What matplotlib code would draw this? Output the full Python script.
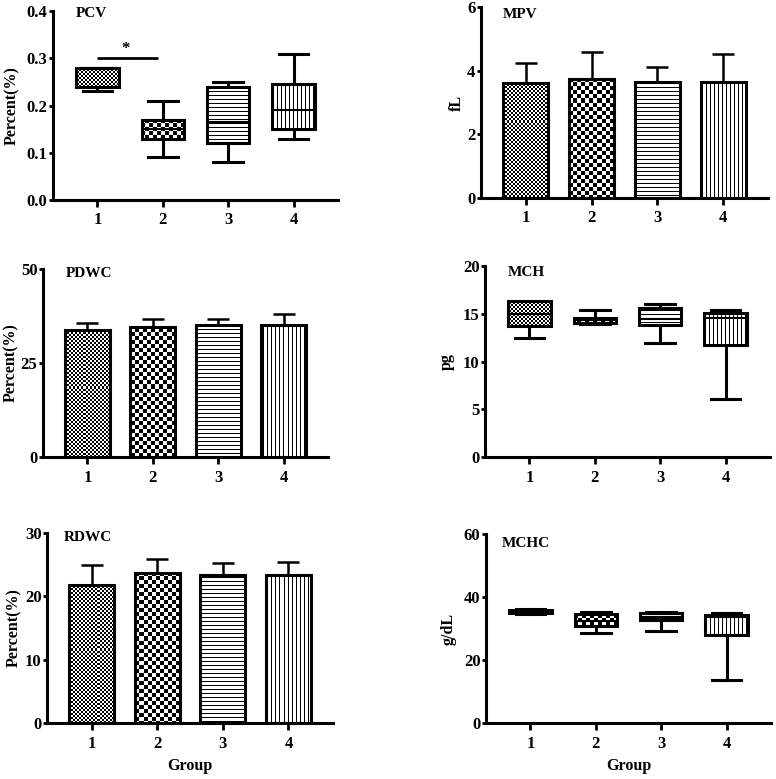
import numpy as np
import matplotlib
matplotlib.use("Agg")
import matplotlib.pyplot as plt

plt.rcParams["font.family"] = ["Liberation Serif", "DejaVu Serif"]
plt.rcParams["font.weight"] = "bold"

FIG_W, FIG_H = 776, 779
DPI = 100

GROUPS = [1, 2, 3, 4]
PATTERNS = ["fine", "checker", "hline", "vline"]

# ---- bar panels (mean, upper error end) ----
MPV_MEAN = [3.62, 3.75, 3.63, 3.63]
MPV_TOP = [4.25, 4.60, 4.12, 4.53]
PDWC_MEAN = [33.8, 34.6, 35.0, 35.2]
PDWC_TOP = [35.6, 36.6, 36.8, 37.9]
RDWC_MEAN = [21.8, 23.7, 23.3, 23.3]
RDWC_TOP = [25.0, 25.9, 25.3, 25.4]

# ---- box panels: whislo, q1, med, q3, whishi ----
PCV_LO = [0.23, 0.09, 0.08, 0.13]
PCV_Q1 = [0.24, 0.13, 0.12, 0.15]
PCV_MED = [0.28, 0.15, 0.165, 0.19]
PCV_Q3 = [0.28, 0.17, 0.24, 0.245]
PCV_HI = [0.28, 0.21, 0.25, 0.31]

MCH_LO = [12.5, 13.9, 11.9, 6.1]
MCH_Q1 = [13.7, 14.0, 13.8, 11.7]
MCH_MED = [15.0, 14.3, 14.5, 14.6]
MCH_Q3 = [16.3, 14.6, 15.6, 15.1]
MCH_HI = [16.3, 15.4, 16.0, 15.4]

MCHC_LO = [34.5, 28.5, 29.2, 13.5]
MCHC_Q1 = [34.8, 30.7, 32.8, 28.0]
MCHC_MED = [35.3, 32.5, 33.8, 33.5]
MCHC_Q3 = [36.0, 34.6, 35.0, 34.2]
MCHC_HI = [36.3, 35.3, 35.3, 34.8]

# axes boxes in pixels: left, bottom(from top), right, top(from top)
BOXES = {
    "PCV": (53, 200, 338, 11),
    "MPV": (481, 198, 768, 7),
    "PDWC": (43, 457, 328, 269),
    "MCH": (485, 457, 770, 266),
    "RDWC": (47, 723, 333, 533),
    "MCHC": (486, 723, 771, 534),
}
# distance (px) from the y axis to the centre of the y label
YLABEL_GAP = {"PCV": 41, "MPV": 24, "PDWC": 32, "MCH": 38, "RDWC": 33, "MCHC": 37}

fig = plt.figure(figsize=(FIG_W / DPI, FIG_H / DPI), dpi=DPI)


def make_axes(name):
    l, b, r, t = BOXES[name]
    ax = fig.add_axes([l / FIG_W, 1 - b / FIG_H, (r - l) / FIG_W, (b - t) / FIG_H])
    ax._px = (r - l, b - t)
    return ax


def pattern_array(kind, h, w):
    yy, xx = np.mgrid[0:h, 0:w]
    if kind == "fine":
        return ((xx // 2 + yy // 2) % 2).astype(float)
    if kind == "checker":
        return ((xx // 4 + yy // 4) % 2).astype(float)
    if kind == "hline":
        return (yy % 4 != 0).astype(float)
    return (xx % 4 != 0).astype(float)


def fill_with(ax, patch, kind):
    # pixel pattern covering the whole axes, clipped to the bar / box
    w, h = ax._px
    arr = pattern_array(kind, h, w)
    im = ax.imshow(arr, cmap="gray", vmin=0, vmax=1, extent=(0, 1, 0, 1),
                   transform=ax.transAxes, aspect="auto",
                   interpolation="nearest", zorder=2)
    im.set_clip_path(patch)


def style(ax, title, ylim, yticks, ylabel, tx, ty):
    for s in ["top", "right"]:
        ax.spines[s].set_visible(False)
    for s in ["left", "bottom"]:
        ax.spines[s].set_linewidth(2.2)
    ax.set_xlim(0.32, 4.68)
    ax.set_ylim(*ylim)
    ax.set_yticks(yticks)
    ax.set_xticks(GROUPS)
    ax.tick_params(axis="x", length=5, width=2.0, pad=4, labelsize=12)
    ax.tick_params(axis="y", length=3, width=2.0, pad=1, labelsize=12)
    ax.set_ylabel(ylabel, fontsize=11.5, fontweight="bold")
    ax.yaxis.set_label_coords(-YLABEL_GAP[title] / ax._px[0], 0.5)
    ax.yaxis.label.set_verticalalignment("center")
    ax.text(tx, ty, title, transform=ax.transAxes, fontsize=11,
            fontweight="bold", va="center", ha="left")
    ax.set_facecolor("none")


def bar_panel(name, means, tops, ylim, yticks, ylabel, tx, ty, fmt="{:g}"):
    ax = make_axes(name)
    bars = ax.bar(GROUPS, means, width=0.69, facecolor="none",
                  edgecolor="black", linewidth=2.2, zorder=3)
    for b, kind in zip(bars, PATTERNS):
        fill_with(ax, b, kind)
    err = np.array(tops) - np.array(means)
    ax.errorbar(GROUPS, means, yerr=[np.zeros(4), err], fmt="none",
                ecolor="black", elinewidth=1.8, capsize=8, capthick=1.8,
                zorder=1)
    style(ax, name, ylim, yticks, ylabel, tx, ty)
    ax.set_yticklabels([fmt.format(v) for v in yticks])
    return ax


def box_panel(name, lo, q1, med, q3, hi, ylim, yticks, ylabel, tx, ty, fmt="{:g}"):
    ax = make_axes(name)
    stats = [dict(whislo=a, q1=b, med=c, q3=d, whishi=e)
             for a, b, c, d, e in zip(lo, q1, med, q3, hi)]
    lw = 2.2
    res = ax.bxp(stats, positions=GROUPS, widths=0.65, patch_artist=True,
                 showfliers=False, capwidths=0.45,
                 boxprops=dict(facecolor="none", edgecolor="black", linewidth=lw),
                 whiskerprops=dict(color="black", linewidth=lw),
                 capprops=dict(color="black", linewidth=lw),
                 medianprops=dict(color="black", linewidth=1.5))
    for p in res["boxes"]:
        p.set_zorder(3)
    for art in res["medians"]:
        art.set_zorder(3)
    for p, kind in zip(res["boxes"], PATTERNS):
        fill_with(ax, p, kind)
    style(ax, name, ylim, yticks, ylabel, tx, ty)
    ax.set_yticklabels([fmt.format(v) for v in yticks])
    return ax


ax1 = box_panel("PCV", PCV_LO, PCV_Q1, PCV_MED, PCV_Q3, PCV_HI,
                (0, 0.4), [0, 0.1, 0.2, 0.3, 0.4], "Percent(%)", 0.08, 0.985,
                fmt="{:.1f}")
ax1.plot([1, 1.93], [0.30, 0.30], color="black", linewidth=2.0,
         solid_capstyle="butt")
ax1.text(1.43, 0.303, "*", ha="center", va="bottom", fontsize=12,
         fontweight="bold")

bar_panel("MPV", MPV_MEAN, MPV_TOP, (0, 6), [0, 2, 4, 6], "fL", 0.075, 0.96)
bar_panel("PDWC", PDWC_MEAN, PDWC_TOP, (0, 50), [0, 25, 50], "Percent(%)",
          0.08, 0.975)
box_panel("MCH", MCH_LO, MCH_Q1, MCH_MED, MCH_Q3, MCH_HI,
          (0, 20), [0, 5, 10, 15, 20], "pg", 0.08, 0.965)
ax5 = bar_panel("RDWC", RDWC_MEAN, RDWC_TOP, (0, 30), [0, 10, 20, 30],
                "Percent(%)", 0.06, 0.975)
ax6 = box_panel("MCHC", MCHC_LO, MCHC_Q1, MCHC_MED, MCHC_Q3, MCHC_HI,
                (0, 60), [0, 20, 40, 60], "g/dL", 0.057, 0.95)
ax5.set_xlabel("Group", fontsize=11.5, fontweight="bold", labelpad=5)
ax6.set_xlabel("Group", fontsize=11.5, fontweight="bold", labelpad=5)

fig.savefig("out.png", dpi=DPI)
